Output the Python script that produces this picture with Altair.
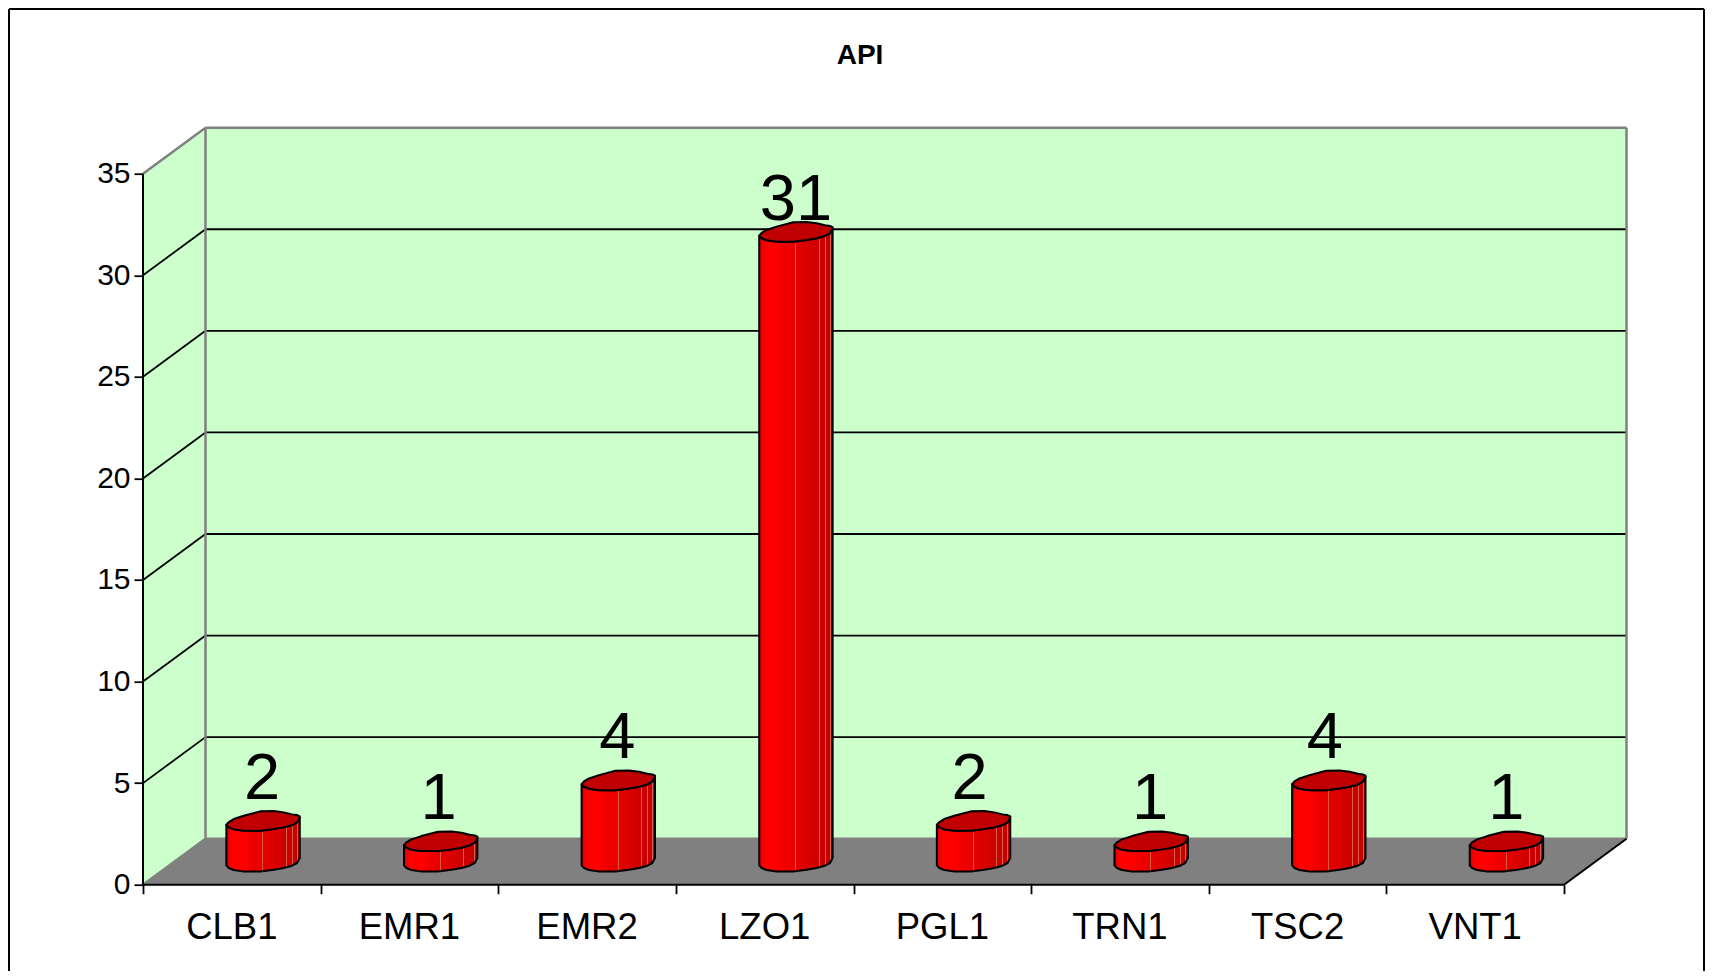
import altair as alt
import pandas as pd

# ---- values ----
CATEGORIES = ["CLB1", "EMR1", "EMR2", "LZO1", "PGL1", "TRN1", "TSC2", "VNT1"]
VALUES = [2, 1, 4, 31, 2, 1, 4, 1]
LABEL_GAP_PX = [22, 22, 22, 12, 22, 22, 22, 22]
LABEL_SHIFT_PX = [-1, -2, -1, 0, -4, -1, -4, 0]
Y_TICKS = [0, 5, 10, 15, 20, 25, 30, 35]
GRID_VALUES = [5, 10, 15, 20, 25, 30]
TITLE = "API"

# outline of the cylinder's top, px around its centre
CAP_X = [-36.7, -34.3, -29.3, -19.3, -2.7, 10.7, 20.7, 29, 34, 36.7]
CAP_UP = [3.7, 1, -2, -5.3, -9.7, -10, -8.7, -6.7, -6, -4.7]
CAP_LOW = [3.7, 6.3, 8.3, 9.7, 9.7, 8, 6.3, 4, 1.3, -3.7]

# shading across a cylinder (offset, colour)
SHADE = [
    (0, "#D00000"), (0.04, "#F00000"), (0.08, "#FF0000"), (0.25, "#FF0000"), (0.33, "#F00000"),
    (0.49, "#E80000"), (0.49, "#DC5A3C"), (0.503, "#DC5A3C"), (0.503, "#E60000"),
    (0.81, "#CC0000"), (0.81, "#D8604A"), (0.823, "#D8604A"), (0.823, "#CC0000"),
    (0.893, "#C80000"), (0.893, "#D8604A"), (0.906, "#D8604A"), (0.906, "#C80000"),
    (0.96, "#C40000"), (0.96, "#D8604A"), (0.973, "#D8604A"), (0.973, "#C40000"),
    (1, "#C00000"),
]

# ---- layout ----
X_MAX_N = 8
Y_MAX_N = 35
FRONT_W = 1421.0
FRONT_H = 711.0
DEPTH_X_PX = 62.5
DEPTH_Y_PX = 46.0
WIDTH = FRONT_W + DEPTH_X_PX
HEIGHT = FRONT_H + DEPTH_Y_PX
PX_X = FRONT_W / X_MAX_N
PX_Y = FRONT_H / Y_MAX_N
DX = DEPTH_X_PX / PX_X
DY = DEPTH_Y_PX / PX_Y
PAD_L, PAD_T = 135, 119.7
TOTAL_W, TOTAL_H = 1697, 963
PAD_R, PAD_B = TOTAL_W - PAD_L - WIDTH, TOTAL_H - PAD_T - HEIGHT

GRAY = "#808080"
WALL = "#CCFFCC"
FONT = "Liberation Sans"

xs = alt.Scale(domain=[0, X_MAX_N + DX], nice=False, zero=False)
ys = alt.Scale(domain=[0, Y_MAX_N + DY], nice=False, zero=False)


def X(f="x", **k):
    return alt.X(f"{f}:Q", scale=xs, title=None, **k)


def Y(f="y", **k):
    return alt.Y(f"{f}:Q", scale=ys, title=None, stack=None, **k)


def X2(f="x2"):
    return alt.X2(f"{f}:Q")


def Y2(f="y2"):
    return alt.Y2(f"{f}:Q")


def rules(rows, color, width):
    return alt.Chart(pd.DataFrame(rows, columns=["x", "y", "x2", "y2"])).mark_rule(
        color=color, strokeWidth=width
    ).encode(x=X(), y=Y(), x2=X2(), y2=Y2())


# axes (ticks and numbers only, the lines are drawn with the box)
axes = alt.Chart(pd.DataFrame({"x": [0], "y": [0]})).mark_point(opacity=0).encode(
    x=X(axis=alt.Axis(values=list(range(X_MAX_N + 1)), labels=False, domain=False, grid=False,
                      tickSize=9, tickWidth=1.8, tickColor="black")),
    y=Y(axis=alt.Axis(values=Y_TICKS, domain=False, grid=False, tickSize=9, tickWidth=1.8,
                      tickColor="black", labelFont=FONT, labelFontSize=30, labelColor="black",
                      labelPadding=4, format="d")),
)

side = alt.Chart(pd.DataFrame({"x": [0, DX], "y": [0, DY], "y2": [Y_MAX_N, Y_MAX_N + DY]})).mark_area(
    color=WALL, orient="vertical"
).encode(x=X(), y=Y(), y2=Y2())

back = alt.Chart(pd.DataFrame({"x": [DX], "x2": [X_MAX_N + DX], "y": [DY], "y2": [Y_MAX_N + DY]})).mark_rect(
    color=WALL
).encode(x=X(), x2=X2(), y=Y(), y2=Y2())

floor = alt.Chart(pd.DataFrame({"y": [0, DY], "x": [0, DX], "x2": [X_MAX_N, X_MAX_N + DX]})).mark_area(
    color=GRAY, orient="horizontal"
).encode(y=Y(), x=X(), x2=X2())

grid_rows = [[DX, v + DY, X_MAX_N + DX, v + DY] for v in GRID_VALUES]
grid_rows += [[0, v, DX, v + DY] for v in GRID_VALUES]
grid = rules(grid_rows, "black", 1.8)

gray_rows = [
    [DX, Y_MAX_N + DY, X_MAX_N + DX, Y_MAX_N + DY],
    [DX, DY, DX, Y_MAX_N + DY],
    [X_MAX_N + DX, DY, X_MAX_N + DX, Y_MAX_N + DY],
    [0, Y_MAX_N, DX, Y_MAX_N + DY],
    [0, 0, DX, DY],
    [DX, DY, X_MAX_N + DX, DY],
]
gray_lines = rules(gray_rows, GRAY, 2.5)

black_rows = [
    [0, 0, 0, Y_MAX_N],
    [0, 0, X_MAX_N, 0],
    [X_MAX_N, 0, X_MAX_N + DX, DY],
]
black_lines = rules(black_rows, "black", 2)

# cylinders
body_rows, cap_rows = [], []
for i, (cat, v) in enumerate(zip(CATEGORIES, VALUES)):
    cx = i + 0.5 + DX / 2
    top = v + DY / 2
    base = DY / 2
    for px, up, low in zip(CAP_X, CAP_UP, CAP_LOW):
        x = cx + px / PX_X
        cap_rows.append({"cat": cat, "x": x, "y": top - up / PX_Y, "y2": top - low / PX_Y})
        body_rows.append({"cat": cat, "x": x, "y": top - low / PX_Y, "y2": base - low / PX_Y})

gradient = alt.Gradient(
    gradient="linear", x1=0, x2=1, y1=0, y2=0,
    stops=[alt.GradientStop(color=c, offset=o) for o, c in SHADE],
)
bodies = alt.Chart(pd.DataFrame(body_rows)).mark_area(
    color=gradient, stroke="black", strokeWidth=2, orient="vertical", strokeJoin="round"
).encode(x=X(), y=Y(), y2=Y2(), detail="cat:N")
caps = alt.Chart(pd.DataFrame(cap_rows)).mark_area(
    color="#C00000", stroke="black", strokeWidth=2, orient="vertical", strokeJoin="round"
).encode(x=X(), y=Y(), y2=Y2(), detail="cat:N")

# value labels above the cylinders
label_df = pd.DataFrame({
    "x": [i + 0.5 + DX / 2 + s / PX_X for i, s in enumerate(LABEL_SHIFT_PX)],
    "y": [v + DY / 2 + g / PX_Y for v, g in zip(VALUES, LABEL_GAP_PX)],
    "t": [str(v) for v in VALUES],
})
value_labels = alt.Chart(label_df).mark_text(
    font=FONT, fontSize=65, color="black", align="center", baseline="alphabetic"
).encode(x=X(), y=Y(), text="t:N")

# category labels under the floor
cat_df = pd.DataFrame({"x": [i + 0.5 for i in range(len(CATEGORIES))], "t": CATEGORIES})
cat_labels = alt.Chart(cat_df).mark_text(
    font=FONT, fontSize=36.5, color="black", align="center", baseline="alphabetic"
).encode(x=X(), y=alt.value(HEIGHT + 54), text="t:N")

# title
title_layer = alt.Chart(pd.DataFrame({"t": [TITLE]})).mark_text(
    font=FONT, fontSize=28, fontWeight="bold", color="black", align="center", baseline="alphabetic"
).encode(x=alt.value(860 - PAD_L - 8), y=alt.value(64 - PAD_T - 8), text="t:N")

# outer frame
f_l, f_t, f_r, f_b = -PAD_L + 1, -PAD_T + 1, TOTAL_W - PAD_L - 1, HEIGHT + PAD_B
frame_left = alt.Chart(pd.DataFrame({"a": [0]})).mark_rule(color="black", strokeWidth=2).encode(
    x=alt.value(f_l), y=alt.value(f_t), y2=alt.value(f_b))
frame_right = alt.Chart(pd.DataFrame({"a": [0]})).mark_rule(color="black", strokeWidth=2).encode(
    x=alt.value(f_r), y=alt.value(f_t), y2=alt.value(f_b))
frame_top = alt.Chart(pd.DataFrame({"a": [0]})).mark_rule(color="black", strokeWidth=2).encode(
    x=alt.value(f_l), x2=alt.value(f_r), y=alt.value(f_t))

chart = alt.layer(
    axes, side, back, floor, grid, gray_lines, black_lines,
    bodies, caps, value_labels, cat_labels, title_layer,
    frame_left, frame_right, frame_top,
).properties(
    width=WIDTH, height=HEIGHT,
    autosize=alt.AutoSizeParams(type="none"),
    padding={"left": PAD_L, "top": PAD_T, "right": PAD_R, "bottom": PAD_B},
    background="white",
).configure_view(stroke=None)

chart.save("out.html", embed_options={"renderer": "svg", "actions": False})
